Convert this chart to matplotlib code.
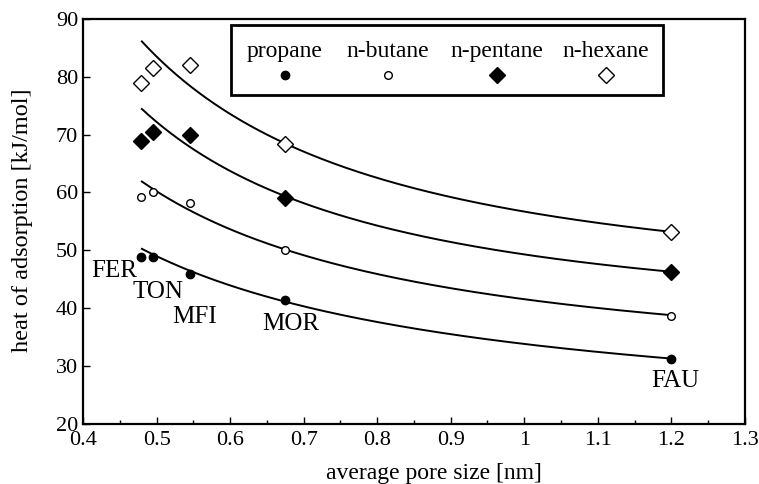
import numpy as np
import matplotlib
matplotlib.use("Agg")
import matplotlib.pyplot as plt
from matplotlib.ticker import MultipleLocator, FuncFormatter
from matplotlib.patches import Rectangle

plt.rcParams["font.family"] = ["Liberation Serif", "DejaVu Serif"]

# Zeolite frameworks and their average pore sizes [nm]
frameworks = ["FER", "TON", "MFI", "MOR", "FAU"]
pore_size = [0.479, 0.495, 0.545, 0.674, 1.2]

# Heats of adsorption [kJ/mol]
propane = [48.9, 48.8, 45.9, 41.5, 31.2]
n_butane = [59.2, 60.0, 58.1, 50.0, 38.7]
n_pentane = [68.9, 70.4, 70.0, 59.1, 46.2]
n_hexane = [79.0, 81.5, 82.0, 68.3, 53.2]

series_names = ["propane", "n-butane", "n-pentane", "n-hexane"]

# Correlation curves Q = A * d**(-n) + B for each alkane
curve_A = [15.17, 13.53, 12.52, 14.65]
curve_n = [1.0, 1.25, 1.5, 1.5]
curve_B = [18.66, 28.03, 36.78, 42.05]
curve_range = [0.48, 1.2]

# Framework label anchor positions (pore size, kJ/mol)
label_x = [0.442, 0.502, 0.552, 0.682, 1.205]
label_y = [46.4, 42.8, 38.5, 37.3, 27.4]

fig = plt.figure(figsize=(7.59, 4.84), dpi=100)
ax = fig.add_axes([0.1094, 0.124, 0.872, 0.837])

styles = [
    dict(marker="o", ms=6, mfc="black", mec="black"),
    dict(marker="o", ms=5.5, mfc="white", mec="black", mew=1.0),
    dict(marker="D", ms=8.5, mfc="black", mec="black"),
    dict(marker="D", ms=8, mfc="white", mec="black", mew=1.0),
]

values = [propane, n_butane, n_pentane, n_hexane]
d = np.linspace(curve_range[0], curve_range[1], 300)
for A, n, B in zip(curve_A, curve_n, curve_B):
    ax.plot(d, A * d ** (-n) + B, color="black", lw=1.4, zorder=2)

for vals, st in zip(values, styles):
    ax.plot(pore_size, vals, linestyle="none", zorder=3, **st)

for name, x, y in zip(frameworks, label_x, label_y):
    ax.text(x, y, name, fontsize=18, ha="center", va="center")

ax.set_xlim(0.4, 1.3)
ax.set_ylim(20, 90)
ax.xaxis.set_major_locator(MultipleLocator(0.1))
ax.xaxis.set_minor_locator(MultipleLocator(0.05))
ax.yaxis.set_major_locator(MultipleLocator(10))
ax.xaxis.set_major_formatter(FuncFormatter(lambda v, p: f"{v:g}"))
ax.tick_params(which="both", direction="in", top=False, right=False,
               labelsize=16, width=1.0)
ax.tick_params(which="major", length=5)
ax.tick_params(which="minor", length=3)
ax.tick_params(axis="x", pad=5)
for s in ax.spines.values():
    s.set_linewidth(1.6)

ax.set_xlabel("average pore size [nm]", fontsize=17)
ax.set_ylabel("heat of adsorption [kJ/mol]", fontsize=17.5)
ax.xaxis.set_label_coords(0.53, -0.097)
ax.yaxis.set_label_coords(-0.075, 0.504)

# Legend box: names above their markers
box = Rectangle((0.223, 0.812), 0.654, 0.173, transform=ax.transAxes,
                fill=False, lw=2.0, ec="black", zorder=4)
ax.add_patch(box)
legend_x = [0.305, 0.461, 0.625, 0.790]
for name, lx, st in zip(series_names, legend_x, styles):
    ax.text(lx, 0.92, name, transform=ax.transAxes, fontsize=17,
            ha="center", va="center", zorder=5)
    ax.plot([lx], [0.862], transform=ax.transAxes, linestyle="none",
            zorder=5, **st)

fig.savefig("out.png", dpi=100)
